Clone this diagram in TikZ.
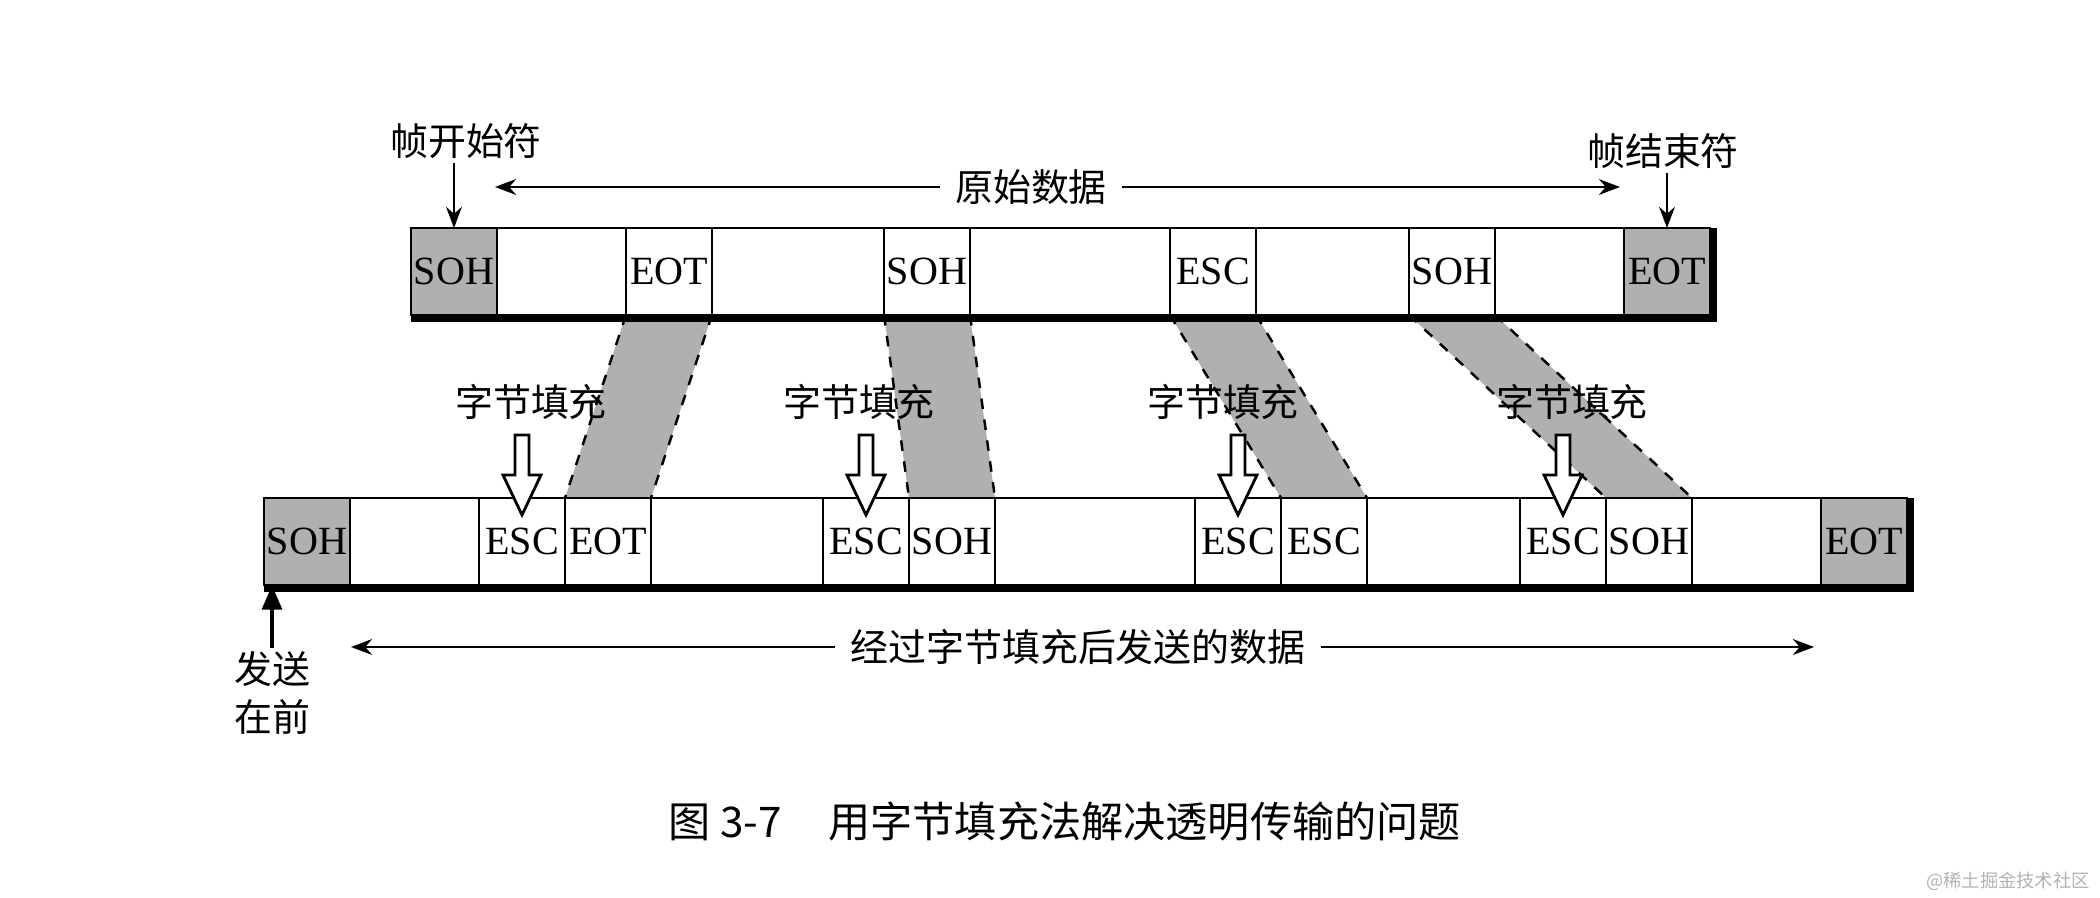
\documentclass[tikz,border=0pt]{standalone}
\usepackage{fontspec}
\setmainfont{Liberation Serif}
\newfontfamily\cjk{Noto Sans CJK SC}
\usetikzlibrary{arrows.meta, positioning, backgrounds, calc}
\definecolor{stip}{HTML}{B0B0B0}
\tikzset{
  cell/.style  = {rectangle, draw, line width=0.6pt, outer sep=0pt, inner sep=0pt,
                  minimum width=0.86cm, minimum height=0.87cm,
                  font=\fontsize{11.4}{14}\selectfont},
  flag/.style  = {cell, fill=stip},
  gap/.style   = {cell, minimum width=#1},
  lbl/.style   = {font=\cjk\fontsize{10.8}{13}\selectfont, inner sep=1pt},
  arr/.style   = {-{Stealth[length=6pt,width=4.5pt]}, line width=0.7pt},
  sarr/.style  = {-{Triangle[length=7pt,width=5.5pt]}, line width=1.4pt},
  band/.style  = {fill=stip, draw=none},
  bedge/.style = {dashed, line width=0.7pt},
  shadow/.style= {line width=2pt},
  hollow/.style= {draw, line width=0.8pt, fill=white, line join=miter},
}

\begin{document}
\begin{tikzpicture}
  \useasboundingbox (0,0) rectangle (21,-8.98);

  % original frame
  \node[flag]                             (tsoh)  at (4.54,-2.715) {SOH};
  \node[gap=1.29cm, right=0pt of tsoh]    (tgapa) {};
  \node[cell, right=0pt of tgapa]         (teot)  {EOT};
  \node[gap=1.72cm, right=0pt of teot]    (tgapb) {};
  \node[cell, right=0pt of tgapb]         (tsohb) {SOH};
  \node[gap=2.0cm, right=0pt of tsohb]    (tgapc) {};
  \node[cell, right=0pt of tgapc]         (tesc)  {ESC};
  \node[gap=1.53cm, right=0pt of tesc]    (tgapd) {};
  \node[cell, right=0pt of tgapd]         (tsohc) {SOH};
  \node[gap=1.29cm, right=0pt of tsohc]   (tgape) {};
  \node[flag, right=0pt of tgape]         (teote) {EOT};
  \draw[shadow] ([yshift=-1pt]tsoh.south west) -- ([xshift=1pt,yshift=-1pt]teote.south east)
                -- ([xshift=1pt]teote.north east);

  % stuffed frame
  \node[flag]                             (bsoh)  at (3.07,-5.415) {SOH};
  \node[gap=1.29cm, right=0pt of bsoh]    (bgapa) {};
  \node[cell, right=0pt of bgapa]         (besca) {ESC};
  \node[cell, right=0pt of besca]         (beot)  {EOT};
  \node[gap=1.72cm, right=0pt of beot]    (bgapb) {};
  \node[cell, right=0pt of bgapb]         (bescb) {ESC};
  \node[cell, right=0pt of bescb]         (bsohb) {SOH};
  \node[gap=2.0cm, right=0pt of bsohb]    (bgapc) {};
  \node[cell, right=0pt of bgapc]         (bescc) {ESC};
  \node[cell, right=0pt of bescc]         (besc)  {ESC};
  \node[gap=1.53cm, right=0pt of besc]    (bgapd) {};
  \node[cell, right=0pt of bgapd]         (bescd) {ESC};
  \node[cell, right=0pt of bescd]         (bsohc) {SOH};
  \node[gap=1.29cm, right=0pt of bsohc]   (bgape) {};
  \node[flag, right=0pt of bgape]         (beote) {EOT};
  \draw[shadow] ([yshift=-1pt]bsoh.south west) -- ([xshift=1pt,yshift=-1pt]beote.south east)
                -- ([xshift=1pt]beote.north east);

  % shaded bands between the two frames
  \begin{scope}[on background layer]
    \foreach \t/\b in {teot/beot, tsohb/bsohb, tesc/besc, tsohc/bsohc} {
      \fill[band] (\t.south west) -- (\t.south east) -- (\b.north east) -- (\b.north west) -- cycle;
      \draw[bedge] (\t.south west) -- (\b.north west);
      \draw[bedge] (\t.south east) -- (\b.north east);
    }
  \end{scope}

  % stuffing arrows
  \foreach \e/\dx in {besca/0.09, bescb/-0.07, bescc/-0.15, bescd/0.09} {
    \draw[hollow] ($(\e.north)+(-0.07,0.63)$) -- ($(\e.north)+(0.07,0.63)$)
      -- ($(\e.north)+(0.07,0.23)$) -- ($(\e.north)+(0.19,0.23)$)
      -- ($(\e.north)+(0,-0.17)$) -- ($(\e.north)+(-0.19,0.23)$)
      -- ($(\e.north)+(-0.07,0.23)$) -- cycle;
    \node[lbl] (lbl-\e) at ($(\e.north)+(\dx,0.96)$) {字节填充};
  }

  % labels of the original frame
  \node[lbl] (start) at (4.66,-1.41) {帧开始符};
  \node[lbl] (stop)  at (16.63,-1.51) {帧结束符};
  \draw[arr] (start.south -| tsoh.north) -- (tsoh.north);
  \draw[arr] (stop.south -| teote.north) -- (teote.north);

  \node[lbl] (orig) at (10.31,-1.87) {原始数据};
  \coordinate (origL) at (4.95,-1.87);
  \coordinate (origR) at (16.20,-1.87);
  \draw[arr] ([xshift=-3pt]orig.west) -- (origL);
  \draw[arr] ([xshift=3pt]orig.east) -- (origR);

  % labels of the stuffed frame
  \node[lbl] (sent) at (10.78,-6.47) {经过字节填充后发送的数据};
  \coordinate (sentL) at (3.51,-6.47);
  \coordinate (sentR) at (18.14,-6.47);
  \draw[arr] ([xshift=-3pt]sent.west) -- (sentL);
  \draw[arr] ([xshift=3pt]sent.east) -- (sentR);

  \node[lbl, align=center, font=\cjk\fontsize{10.8}{13.5}\selectfont] (first) at (2.72,-6.93) {发送\\在前};
  \draw[sarr] (first.north) -- (first.north |- bsoh.south);

  % caption
  \node[font=\cjk\fontsize{12}{14}\selectfont] (cap) at (10.65,-8.21)
    {图 3-7\hspace{1.1em}用字节填充法解决透明传输的问题};
  \node[font=\cjk\fontsize{5.2}{6}\selectfont, text=gray!60] (wm) at (20.08,-8.81) {@稀土掘金技术社区};
\end{tikzpicture}
\end{document}
